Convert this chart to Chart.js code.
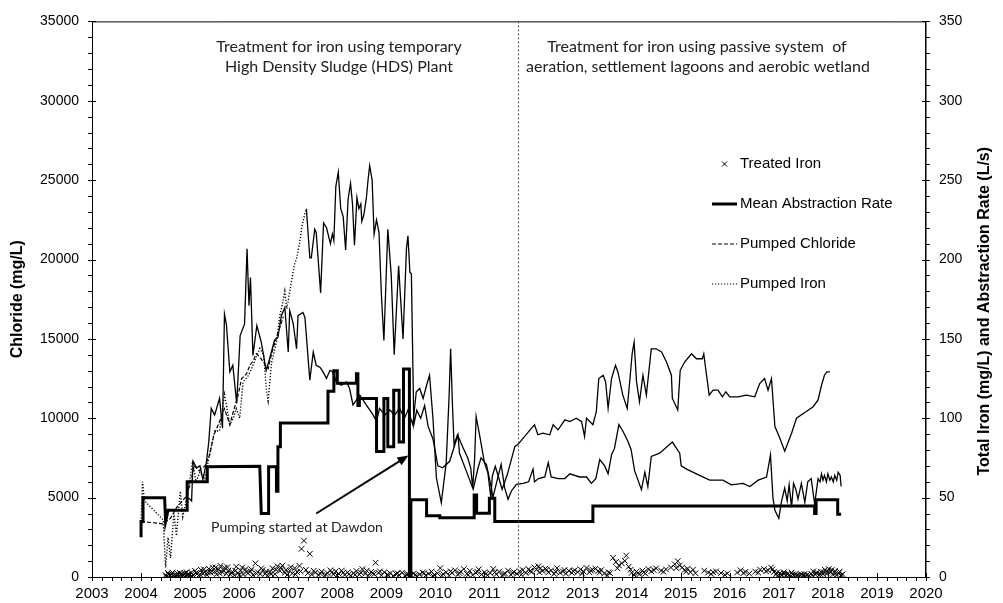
<!DOCTYPE html>
<html>
<head>
<meta charset="utf-8">
<script src="https://cdn.jsdelivr.net/npm/chart.js@4"></script>
<style>
  body { margin: 0; background: #fff; }
  canvas { display: block; }
</style>
</head>
<body>
<canvas id="myChart" width="1003" height="603"></canvas>
<script>
// [year, value] pairs
var pumpedIron = [ // mg/L, right axis
    [2004.0, 35], [2004.03, 60], [2004.07, 48], [2004.45, 36], [2004.5, 6], [2004.55, 25], [2004.6, 12],
    [2004.67, 40], [2004.72, 26], [2004.8, 54], [2004.85, 38], [2004.95, 52], [2005.05, 73], [2005.12, 60],
    [2005.2, 66], [2005.3, 62], [2005.4, 78], [2005.5, 92], [2005.6, 92], [2005.7, 115], [2005.81, 96],
    [2005.88, 100], [2005.94, 106], [2006.01, 100], [2006.08, 123], [2006.17, 126], [2006.25, 131],
    [2006.42, 144], [2006.5, 140], [2006.55, 119], [2006.59, 111], [2006.66, 135], [2006.76, 148],
    [2006.83, 165], [2006.89, 173], [2006.93, 180], [2006.97, 169], [2007.06, 185], [2007.12, 196],
    [2007.17, 201], [2007.23, 210], [2007.28, 221], [2007.34, 229], [2007.37, 232]
];

var pumpedChloride = [ // mg/L, left axis
    [2004.0, 3500], [2004.45, 3350], [2004.6, 3700], [2004.73, 4400], [2004.9, 5000], [2005.0, 5800],
    [2005.08, 7000], [2005.18, 6700], [2005.3, 7000], [2005.4, 7700], [2005.48, 8900], [2005.6, 9800],
    [2005.7, 10600], [2005.81, 9600], [2005.87, 10300], [2005.97, 11350], [2006.05, 12500], [2006.15, 12800],
    [2006.22, 13340], [2006.29, 13650], [2006.35, 14060], [2006.42, 13860], [2006.59, 13125], [2006.66, 14060],
    [2006.76, 15100], [2006.83, 15730], [2006.9, 16400]
];

var chlorideLine = [ // mg/L, left axis (continuation, not in legend)
    [2004.96, 5000], [2005.03, 4790], [2005.06, 7290], [2005.13, 6875], [2005.2, 7000], [2005.26, 6150],
    [2005.33, 7190], [2005.38, 8500], [2005.43, 10625], [2005.5, 10210], [2005.6, 11250], [2005.66, 9375],
    [2005.7, 16560], [2005.74, 15900], [2005.81, 12920], [2005.87, 13340], [2005.95, 10940], [2006.02, 15210],
    [2006.11, 15940], [2006.16, 20670], [2006.2, 17090], [2006.23, 18860], [2006.28, 13960], [2006.36, 15840],
    [2006.45, 14790], [2006.55, 13020], [2006.62, 13750], [2006.72, 14900], [2006.79, 15100], [2006.86, 16460],
    [2006.93, 16980], [2007.0, 14170], [2007.03, 16770], [2007.1, 16000], [2007.17, 14375], [2007.2, 16460],
    [2007.3, 16670], [2007.34, 16350], [2007.44, 12400], [2007.51, 14170], [2007.57, 13340], [2007.65, 13200],
    [2007.71, 12920], [2007.78, 12500], [2007.85, 13020], [2007.91, 12920], [2007.98, 12290], [2008.08, 12080],
    [2008.19, 12290], [2008.25, 11875], [2008.32, 10840], [2008.46, 11460], [2008.59, 10840], [2008.73, 10210],
    [2008.8, 9790], [2008.86, 10625], [2008.97, 10210], [2009.07, 10520], [2009.17, 10210], [2009.27, 10625],
    [2009.37, 10000], [2009.44, 10520], [2009.54, 9590], [2009.61, 11670], [2009.68, 11875], [2009.75, 11250],
    [2009.82, 12080], [2009.88, 12710], [2009.95, 10000], [2010.02, 6250], [2010.12, 4690], [2010.22, 7190],
    [2010.28, 11460], [2010.31, 14375], [2010.35, 10625], [2010.38, 8340], [2010.45, 8960], [2010.55, 8230],
    [2010.66, 7500], [2010.72, 6875], [2010.76, 5625], [2010.8, 7500], [2010.83, 10100], [2010.9, 8960],
    [2011.0, 7190], [2011.07, 6560], [2011.13, 5000], [2011.16, 6350], [2011.22, 6980], [2011.29, 6250],
    [2011.36, 5525], [2011.47, 6500], [2011.62, 8230], [2011.68, 8340], [2011.96, 9375], [2012.02, 9590],
    [2012.09, 8960], [2012.19, 9060], [2012.33, 8960], [2012.4, 9590], [2012.5, 9270], [2012.64, 9900],
    [2012.74, 9790], [2012.87, 10000], [2012.98, 9790], [2013.04, 8860], [2013.08, 10000], [2013.21, 9590],
    [2013.28, 10420], [2013.33, 12500], [2013.42, 12710], [2013.47, 12290], [2013.52, 10625], [2013.59, 12500],
    [2013.67, 13340], [2013.72, 12920], [2013.82, 11460], [2013.91, 10625], [2013.96, 12290], [2014.01, 14060],
    [2014.05, 14790], [2014.1, 12290], [2014.16, 11040], [2014.23, 12710], [2014.3, 11460], [2014.4, 14375],
    [2014.5, 14375], [2014.61, 14170], [2014.71, 13540], [2014.81, 12710], [2014.83, 11250], [2014.94, 10520],
    [2014.99, 13020], [2015.08, 13540], [2015.22, 14060], [2015.32, 13750], [2015.44, 13750], [2015.47, 14060],
    [2015.58, 11460], [2015.66, 11770], [2015.76, 11770], [2015.85, 11350], [2015.92, 11670], [2016.0, 11350],
    [2016.17, 11350], [2016.34, 11460], [2016.51, 11350], [2016.61, 12190], [2016.71, 12500], [2016.78, 11770],
    [2016.85, 12500], [2016.92, 9480], [2017.02, 8750], [2017.12, 7920], [2017.26, 9060], [2017.36, 10000],
    [2017.56, 10420], [2017.7, 10730], [2017.8, 11150], [2017.87, 12080], [2017.93, 12710], [2017.98, 12920],
    [2018.04, 12920]
];

var ironLine = [ // mg/L, right axis (continuation, not in legend)
    [2007.37, 232], [2007.44, 201], [2007.47, 201], [2007.54, 219], [2007.57, 217], [2007.66, 179],
    [2007.72, 223], [2007.78, 220], [2007.86, 210], [2007.9, 216], [2007.93, 212], [2007.97, 246],
    [2008.02, 255], [2008.07, 232], [2008.12, 227], [2008.17, 206], [2008.22, 238], [2008.27, 248],
    [2008.31, 235], [2008.35, 209], [2008.4, 239], [2008.44, 232], [2008.48, 235], [2008.5, 224],
    [2008.54, 228], [2008.59, 238], [2008.63, 251], [2008.66, 259], [2008.71, 250], [2008.75, 216],
    [2008.8, 225], [2008.85, 217], [2008.9, 177], [2008.95, 149], [2009.03, 219], [2009.1, 190],
    [2009.16, 140], [2009.25, 196], [2009.34, 150], [2009.41, 207], [2009.44, 215], [2009.48, 192],
    [2009.51, 191], [2009.56, 96], [2009.62, 105], [2009.7, 100], [2009.78, 108], [2009.85, 95],
    [2009.95, 87], [2010.05, 70], [2010.15, 68.8], [2010.29, 72.9], [2010.46, 89.6], [2010.49, 78.1],
    [2010.63, 66.7], [2010.77, 55.3], [2010.87, 68.8], [2010.93, 75], [2011.04, 70.9], [2011.14, 56.3],
    [2011.17, 50], [2011.28, 63.5], [2011.34, 70.9], [2011.41, 56.3], [2011.48, 49], [2011.55, 54.2],
    [2011.65, 58.4], [2011.79, 59], [2011.9, 60], [2011.99, 68], [2012.02, 60], [2012.1, 62], [2012.23, 63],
    [2012.3, 72], [2012.36, 63], [2012.5, 62], [2012.64, 62], [2012.74, 65], [2012.94, 63], [2013.08, 63],
    [2013.18, 59], [2013.27, 62], [2013.35, 74], [2013.45, 70], [2013.52, 65], [2013.59, 77], [2013.65, 81],
    [2013.74, 96], [2013.82, 92], [2013.93, 85], [2013.99, 80], [2014.06, 67], [2014.2, 55], [2014.27, 66],
    [2014.33, 57], [2014.4, 76], [2014.57, 78], [2014.83, 85], [2014.98, 78], [2015.01, 70], [2015.12, 68],
    [2015.32, 65], [2015.59, 61], [2015.86, 61], [2016.03, 58], [2016.27, 59], [2016.41, 57], [2016.58, 61],
    [2016.75, 63], [2016.83, 77], [2016.88, 50], [2016.92, 42], [2017.0, 37], [2017.05, 47], [2017.12, 56],
    [2017.17, 48], [2017.21, 58], [2017.26, 44], [2017.3, 59], [2017.35, 55], [2017.39, 49], [2017.46, 59],
    [2017.53, 47], [2017.59, 60], [2017.66, 62], [2017.73, 46], [2017.8, 62], [2017.84, 60], [2017.87, 65],
    [2017.9, 61], [2017.93, 64], [2017.97, 60], [2018.0, 65], [2018.04, 61], [2018.07, 63], [2018.11, 60],
    [2018.14, 64], [2018.18, 61], [2018.21, 66], [2018.25, 64], [2018.27, 57]
];

var abstraction = [ // L/s, right axis
    [2004.0, 25], [2004.0, 35], [2004.04, 35], [2004.04, 50], [2004.48, 50], [2004.5, 35], [2004.55, 42],
    [2004.94, 42], [2004.94, 60], [2005.35, 60], [2005.35, 69.4], [2006.42, 69.7], [2006.45, 40],
    [2006.6, 40], [2006.6, 69.4], [2006.76, 69.4], [2006.76, 54], [2006.79, 54], [2006.79, 82],
    [2006.84, 82], [2006.84, 97], [2007.81, 97], [2007.81, 117], [2007.93, 117], [2007.93, 130],
    [2008.0, 130], [2008.0, 122], [2008.39, 122], [2008.39, 128], [2008.42, 128], [2008.42, 108],
    [2008.45, 108], [2008.45, 112.5], [2008.8, 112.5], [2008.8, 79], [2008.95, 79], [2008.95, 112.5],
    [2009.03, 112.5], [2009.03, 82], [2009.15, 82], [2009.15, 117.7], [2009.26, 117.7], [2009.26, 85],
    [2009.35, 85], [2009.35, 131], [2009.47, 131], [2009.47, 0], [2009.5, 0], [2009.5, 48.6],
    [2009.82, 48.6], [2009.82, 38.6], [2010.09, 38.6], [2010.09, 37.3], [2010.79, 37.3], [2010.79, 51.7],
    [2010.84, 51.7], [2010.84, 40.2], [2011.1, 40.2], [2011.1, 49.6], [2011.21, 49.6], [2011.21, 35],
    [2013.21, 35], [2013.21, 44.8], [2017.73, 44.8], [2017.73, 40], [2017.76, 40], [2017.76, 48.6],
    [2018.2, 48.6], [2018.2, 39.6], [2018.27, 39.6]
];

var treatedIron = [ // mg/L, right axis
    [2004.50, 1.2], [2004.53, 0.4], [2004.56, 1.6], [2004.59, 0.8], [2004.62, 2.0], [2004.65, 0.5], [2004.68, 1.4],
    [2004.71, 0.9], [2004.74, 2.2], [2004.77, 0.6], [2004.80, 1.5], [2004.83, 0.7], [2004.86, 1.1], [2004.89, 2.4],
    [2004.92, 0.9], [2004.95, 1.6], [2004.98, 0.8],
    [2005.02, 2.8], [2005.06, 1.2], [2005.10, 3.9], [2005.14, 1.9], [2005.18, 0.9], [2005.22, 4.5], [2005.26, 2.2],
    [2005.30, 3.1], [2005.34, 1.3], [2005.38, 5.2], [2005.42, 2.7], [2005.46, 6.0], [2005.50, 3.5], [2005.54, 1.8],
    [2005.58, 4.8], [2005.62, 7.0], [2005.66, 3.0], [2005.70, 5.8], [2005.74, 2.1], [2005.78, 4.0], [2005.82, 1.5],
    [2005.86, 3.2], [2005.90, 1.0], [2005.94, 6.5], [2005.98, 2.5],
    [2006.03, 4.1], [2006.08, 1.6], [2006.13, 5.0], [2006.18, 2.3], [2006.23, 3.6], [2006.28, 1.2], [2006.33, 8.6],
    [2006.38, 3.0], [2006.43, 1.9], [2006.48, 4.4], [2006.53, 2.0], [2006.58, 0.9], [2006.63, 3.3], [2006.68, 5.5],
    [2006.73, 1.8], [2006.78, 6.8], [2006.83, 3.9], [2006.88, 7.2], [2006.93, 2.6], [2006.98, 1.4],
    [2007.03, 4.0], [2007.08, 2.2], [2007.13, 5.6], [2007.18, 3.1], [2007.23, 7.0], [2007.27, 17.7], [2007.32, 22.9],
    [2007.36, 4.5], [2007.44, 14.6], [2007.48, 1.6], [2007.55, 2.8], [2007.62, 1.2], [2007.68, 3.4], [2007.74, 0.8],
    [2007.80, 2.5], [2007.86, 4.2], [2007.92, 1.7], [2007.97, 3.6],
    [2008.03, 2.0], [2008.09, 4.0], [2008.15, 1.3], [2008.21, 2.9], [2008.27, 0.7], [2008.33, 2.4], [2008.39, 3.8],
    [2008.45, 1.5], [2008.51, 5.0], [2008.57, 2.1], [2008.63, 0.9], [2008.69, 3.2], [2008.75, 1.8], [2008.78, 9.0],
    [2008.84, 2.6], [2008.90, 1.1], [2008.96, 3.0],
    [2009.02, 1.6], [2009.08, 2.4], [2009.14, 0.8], [2009.20, 1.9], [2009.26, 1.2], [2009.32, 2.7], [2009.38, 0.9],
    [2009.44, 1.8], [2009.50, 1.1], [2009.56, 2.2], [2009.62, 0.7], [2009.68, 1.6], [2009.74, 2.8], [2009.80, 1.0],
    [2009.86, 2.0], [2009.92, 3.4], [2009.98, 1.3],
    [2010.04, 2.3], [2010.10, 5.6], [2010.16, 1.8], [2010.22, 3.0], [2010.28, 0.9], [2010.34, 2.6], [2010.40, 4.2],
    [2010.46, 1.5], [2010.52, 3.3], [2010.58, 5.0], [2010.64, 2.0], [2010.70, 3.9], [2010.76, 1.2], [2010.82, 2.7],
    [2010.88, 4.8], [2010.94, 1.6],
    [2011.00, 3.0], [2011.06, 1.1], [2011.12, 2.5], [2011.18, 5.1], [2011.24, 1.7], [2011.30, 3.4], [2011.36, 0.9],
    [2011.42, 2.2], [2011.48, 4.0], [2011.54, 1.4], [2011.60, 3.1], [2011.66, 2.0], [2011.72, 3.6], [2011.78, 4.4],
    [2011.84, 2.5], [2011.90, 5.0], [2011.96, 3.2],
    [2012.02, 6.0], [2012.06, 4.6], [2012.10, 6.8], [2012.14, 5.5], [2012.18, 3.8], [2012.24, 5.2], [2012.30, 2.9],
    [2012.36, 4.2], [2012.42, 1.9], [2012.48, 5.6], [2012.54, 2.7], [2012.60, 3.5], [2012.66, 2.1], [2012.72, 3.9],
    [2012.78, 2.6], [2012.84, 4.3], [2012.90, 3.1], [2012.96, 4.8],
    [2013.02, 3.4], [2013.08, 5.7], [2013.14, 3.0], [2013.20, 4.6], [2013.26, 5.2], [2013.32, 3.8], [2013.38, 4.4],
    [2013.44, 2.2], [2013.50, 1.0], [2013.56, 2.4], [2013.62, 12.1], [2013.68, 9.5], [2013.74, 7.3], [2013.80, 8.6],
    [2013.86, 10.2], [2013.89, 13.5], [2013.94, 6.5],
    [2014.00, 2.6], [2014.05, 1.2], [2014.10, 3.4], [2014.16, 1.8], [2014.22, 4.0], [2014.28, 2.2], [2014.34, 5.0],
    [2014.40, 3.6], [2014.50, 5.4], [2014.60, 4.0], [2014.70, 4.8], [2014.80, 6.0], [2014.88, 8.0], [2014.94, 10.0],
    [2014.98, 7.2],
    [2015.03, 6.0], [2015.08, 4.5], [2015.14, 5.2], [2015.20, 3.0], [2015.30, 2.4], [2015.48, 4.0], [2015.56, 2.8],
    [2015.62, 1.9], [2015.72, 3.5], [2015.82, 2.5], [2015.90, 1.3],
    [2016.15, 2.8], [2016.22, 4.2], [2016.32, 3.2], [2016.40, 2.1], [2016.52, 3.4], [2016.62, 4.6], [2016.70, 5.0],
    [2016.78, 4.2], [2016.84, 6.0], [2016.90, 3.2], [2016.94, 1.6], [2016.98, 0.9],
    [2017.02, 2.4], [2017.06, 1.2], [2017.10, 3.0], [2017.14, 0.7], [2017.18, 2.0], [2017.22, 1.4], [2017.26, 2.8],
    [2017.30, 0.8], [2017.34, 1.9], [2017.38, 1.2], [2017.42, 0.6], [2017.46, 1.7], [2017.50, 1.0], [2017.54, 0.5],
    [2017.58, 1.4], [2017.62, 0.8], [2017.66, 2.0], [2017.70, 3.5], [2017.74, 1.6], [2017.78, 2.8], [2017.82, 1.0],
    [2017.86, 3.3], [2017.90, 1.8], [2017.94, 4.5], [2017.98, 2.2],
    [2018.02, 5.0], [2018.06, 3.1], [2018.10, 1.5], [2018.14, 3.8], [2018.18, 1.0], [2018.22, 2.6], [2018.26, 0.8],
    [2018.30, 1.8],
    [2004.51, 0.3], [2004.55, 2.5], [2004.60, 1.0], [2004.64, 2.8], [2004.69, 0.2], [2004.73, 1.1], [2004.79, 2.6],
    [2004.84, 1.9], [2004.88, 0.3], [2004.93, 2.9], [2004.97, 1.8], [2005.04, 0.6], [2005.12, 2.6], [2005.20, 1.7],
    [2005.28, 4.8], [2005.36, 2.9], [2005.44, 3.8], [2005.52, 5.9], [2005.60, 2.4], [2005.68, 4.3], [2005.76, 6.2],
    [2005.84, 2.7], [2005.92, 3.9], [2006.00, 1.2], [2006.06, 6.0], [2006.15, 3.2], [2006.25, 4.8], [2006.35, 2.2],
    [2006.45, 5.5], [2006.55, 3.5], [2006.65, 1.8], [2006.75, 4.6], [2006.85, 5.8], [2006.95, 4.4], [2007.05, 6.2],
    [2007.15, 1.6], [2007.25, 3.5], [2007.40, 2.4], [2007.52, 3.9], [2007.65, 2.2], [2007.77, 1.6], [2007.89, 2.9],
    [2008.00, 1.1], [2008.12, 2.7], [2008.24, 1.8], [2008.36, 1.4], [2008.48, 2.8], [2008.60, 4.0], [2008.72, 2.4],
    [2008.87, 3.5], [2009.05, 0.9], [2009.23, 2.3], [2009.41, 1.5], [2009.59, 1.3], [2009.77, 2.3], [2009.95, 0.6],
    [2010.13, 1.0], [2010.31, 3.6], [2010.49, 2.5], [2010.67, 1.3], [2010.85, 3.4], [2011.03, 2.0], [2011.21, 3.0],
    [2011.39, 1.8], [2011.57, 2.6], [2011.75, 1.4], [2011.93, 3.8], [2012.12, 3.0], [2012.27, 4.6], [2012.45, 3.3],
    [2012.63, 4.4], [2012.81, 3.6], [2012.99, 2.2], [2013.17, 4.0], [2013.35, 2.8], [2013.53, 3.0], [2013.71, 5.5],
    [2013.98, 4.6], [2014.13, 2.4], [2014.25, 3.0], [2014.45, 4.4], [2014.65, 3.3], [2014.91, 5.6], [2015.11, 3.4],
    [2015.25, 4.6], [2015.66, 3.0], [2015.95, 2.2], [2016.28, 2.5], [2016.58, 2.8], [2016.74, 3.6], [2016.87, 4.8],
    [2016.96, 2.7], [2017.04, 1.6], [2017.12, 2.2], [2017.20, 0.9], [2017.28, 1.6], [2017.36, 0.6], [2017.44, 1.2],
    [2017.52, 1.9], [2017.60, 0.4], [2017.68, 1.2], [2017.76, 2.4], [2017.84, 1.9], [2017.92, 2.9], [2018.00, 3.4],
    [2018.08, 4.4], [2018.16, 2.3], [2018.24, 3.4], [2018.28, 1.2]
];

var legendLabels = ['Treated Iron', 'Mean Abstraction Rate', 'Pumped Chloride', 'Pumped Iron'];
var leftText = ['Treatment for iron using temporary', 'High Density Sludge (HDS) Plant'];
var rightText = ['Treatment for iron using passive system  of', 'aeration, settlement lagoons and aerobic wetland'];
var rightTitle = 'Total Iron (mg/L) and Abstraction Rate (L/s)';
var arrowText = 'Pumping started at Dawdon';
var arrowFrom = [2007.57, 4000];
var arrowTo = [2009.45, 7650];
var phaseSplit = 2011.69;

function pts(arr) {
    return arr.map(function (p) { return { x: p[0], y: p[1] }; });
}

var SANS = '"Liberation Sans", Arial, sans-serif';
var CAL = 'Lato, "Open Sans", sans-serif';

var extras = {
    id: 'extras',
    afterDraw: function (chart) {
        var ctx = chart.ctx, a = chart.chartArea;
        var x = chart.scales.x, y = chart.scales.y, y2 = chart.scales.y2;
        ctx.save();
        ctx.strokeStyle = '#000';
        ctx.lineWidth = 1;
        ctx.beginPath();
        ctx.moveTo(a.left, a.top + 0.5);
        ctx.lineTo(a.right, a.top + 0.5);
        // left ticks
        for (var i = 0; i <= 35; i++) {
            var py = Math.round(y.getPixelForValue(i * 1000)) + 0.5;
            ctx.moveTo(a.left - 4, py);
            ctx.lineTo(a.left + (i % 5 === 0 ? 4 : 0), py);
        }
        // right ticks
        for (var j = 0; j <= 35; j++) {
            var py2 = Math.round(y2.getPixelForValue(j * 10)) + 0.5;
            ctx.moveTo(a.right - (j % 5 === 0 ? 4 : 0), py2);
            ctx.lineTo(a.right + 4, py2);
        }
        // x ticks
        for (var k = 0; k <= 85; k++) {
            var px = Math.round(x.getPixelForValue(2003 + k * 0.2)) + 0.5;
            ctx.moveTo(px, a.bottom - (k % 5 === 0 ? 4 : 0));
            ctx.lineTo(px, a.bottom + 4);
        }
        ctx.stroke();

        // phase divider
        ctx.beginPath();
        ctx.setLineDash([2, 2]);
        ctx.strokeStyle = '#555';
        var sx = Math.round(x.getPixelForValue(phaseSplit)) + 0.5;
        ctx.moveTo(sx, a.top);
        ctx.lineTo(sx, a.bottom);
        ctx.stroke();
        ctx.setLineDash([]);

        // phase texts
        ctx.fillStyle = '#222';
        ctx.textAlign = 'center';
        ctx.textBaseline = 'middle';
        ctx.font = '16px ' + CAL;
        ctx.fillText(leftText[0], 339, a.top + 25);
        ctx.fillText(leftText[1], 339, a.top + 45);
        ctx.fillText(rightText[0], 697, a.top + 25);
        ctx.fillText(rightText[1], 698, a.top + 45);

        // arrow
        var ax0 = x.getPixelForValue(arrowFrom[0]), ay0 = y.getPixelForValue(arrowFrom[1]);
        var ax1 = x.getPixelForValue(arrowTo[0]), ay1 = y.getPixelForValue(arrowTo[1]);
        var ang = Math.atan2(ay1 - ay0, ax1 - ax0);
        ctx.strokeStyle = '#000';
        ctx.lineWidth = 2;
        ctx.beginPath();
        ctx.moveTo(ax0, ay0);
        ctx.lineTo(ax1 - 8 * Math.cos(ang), ay1 - 8 * Math.sin(ang));
        ctx.stroke();
        ctx.beginPath();
        ctx.moveTo(ax1, ay1);
        ctx.lineTo(ax1 - 11 * Math.cos(ang) + 4.5 * Math.sin(ang), ay1 - 11 * Math.sin(ang) - 4.5 * Math.cos(ang));
        ctx.lineTo(ax1 - 11 * Math.cos(ang) - 4.5 * Math.sin(ang), ay1 - 11 * Math.sin(ang) + 4.5 * Math.cos(ang));
        ctx.closePath();
        ctx.fillStyle = '#000';
        ctx.fill();
        ctx.fillStyle = '#222';
        ctx.font = '14px ' + CAL;
        ctx.fillText(arrowText, 297, 527);

        // right axis title, reading upwards like the left one
        ctx.save();
        ctx.translate(985, (a.top + a.bottom) / 2 + 12);
        ctx.rotate(-Math.PI / 2);
        ctx.fillStyle = '#000';
        ctx.font = 'bold 16px ' + SANS;
        ctx.fillText(rightTitle, 0, 0);
        ctx.restore();

        // legend
        var lx = 712, tx = 740, ly = [164, 204, 244, 284];
        ctx.fillStyle = '#000';
        ctx.textAlign = 'left';
        ctx.font = '15px ' + SANS;
        ctx.lineWidth = 1;
        ctx.beginPath();
        ctx.moveTo(lx + 10, ly[0] - 2.5); ctx.lineTo(lx + 15, ly[0] + 2.5);
        ctx.moveTo(lx + 15, ly[0] - 2.5); ctx.lineTo(lx + 10, ly[0] + 2.5);
        ctx.stroke();
        ctx.lineWidth = 3;
        ctx.beginPath(); ctx.moveTo(lx, ly[1]); ctx.lineTo(lx + 25, ly[1]); ctx.stroke();
        ctx.lineWidth = 1.2;
        ctx.setLineDash([4, 2]);
        ctx.beginPath(); ctx.moveTo(lx, ly[2]); ctx.lineTo(lx + 25, ly[2]); ctx.stroke();
        ctx.setLineDash([1.2, 1.8]);
        ctx.beginPath(); ctx.moveTo(lx, ly[3]); ctx.lineTo(lx + 25, ly[3]); ctx.stroke();
        ctx.setLineDash([]);
        for (var m = 0; m < legendLabels.length; m++) {
            ctx.fillText(legendLabels[m], tx, ly[m]);
        }
        ctx.restore();
    }
};

var lineBase = { pointRadius: 0, borderColor: '#000', backgroundColor: '#000', fill: false, tension: 0 };

var ctx = document.getElementById('myChart').getContext('2d');
var myChart = new Chart(ctx, {
    type: 'line',
    data: {
        datasets: [
            Object.assign({}, lineBase, { label: 'Mean Abstraction Rate', data: pts(abstraction), yAxisID: 'y2', borderWidth: 3 }),
            Object.assign({}, lineBase, { label: 'Pumped Chloride', data: pts(pumpedChloride), yAxisID: 'y', borderWidth: 1.2, borderDash: [4, 2] }),
            Object.assign({}, lineBase, { label: 'Pumped Iron', data: pts(pumpedIron), yAxisID: 'y2', borderWidth: 1.4, borderDash: [1.2, 1.8] }),
            Object.assign({}, lineBase, { label: 'Chloride', data: pts(chlorideLine), yAxisID: 'y', borderWidth: 1.3 }),
            Object.assign({}, lineBase, { label: 'Iron', data: pts(ironLine), yAxisID: 'y2', borderWidth: 1.3 }),
            {
                label: 'Treated Iron',
                data: pts(treatedIron),
                yAxisID: 'y2',
                showLine: false,
                pointStyle: 'crossRot',
                pointRadius: 4,
                borderColor: '#000',
                borderWidth: 1
            }
        ]
    },
    options: {
        responsive: false,
        animation: false,
        layout: { padding: { top: 17, left: 0, right: 0, bottom: 0 } },
        plugins: { legend: { display: false }, tooltip: { enabled: false } },
        scales: {
            x: {
                type: 'linear',
                min: 2003,
                max: 2020,
                grid: { display: false, drawTicks: false },
                border: { display: true, color: '#000', width: 1 },
                ticks: {
                    stepSize: 1,
                    padding: 8,
                    color: '#000',
                    font: { family: SANS, size: 15 },
                    maxRotation: 0,
                    callback: function (v) { return String(v); }
                },
                afterFit: function (s) { s.height = 26; }
            },
            y: {
                position: 'left',
                min: 0,
                max: 35000,
                grid: { display: false, drawTicks: false },
                border: { display: true, color: '#000', width: 1 },
                ticks: {
                    stepSize: 5000,
                    padding: 13,
                    color: '#000',
                    font: { family: SANS, size: 14 },
                    callback: function (v) { return String(v); }
                },
                title: {
                    display: true,
                    text: 'Chloride (mg/L)',
                    color: '#000',
                    font: { family: SANS, size: 16, weight: 'bold' },
                    padding: { top: 8, bottom: 0 }
                },
                afterFit: function (s) { s.width = 92; }
            },
            y2: {
                position: 'right',
                min: 0,
                max: 350,
                grid: { display: false, drawTicks: false },
                border: { display: true, color: '#000', width: 1.5 },
                ticks: {
                    stepSize: 50,
                    padding: 13,
                    color: '#000',
                    font: { family: SANS, size: 14 },
                    callback: function (v) { return String(v); }
                },
                afterFit: function (s) { s.width = 77; }
            }
        }
    },
    plugins: [extras]
});
</script>
</body>
</html>
